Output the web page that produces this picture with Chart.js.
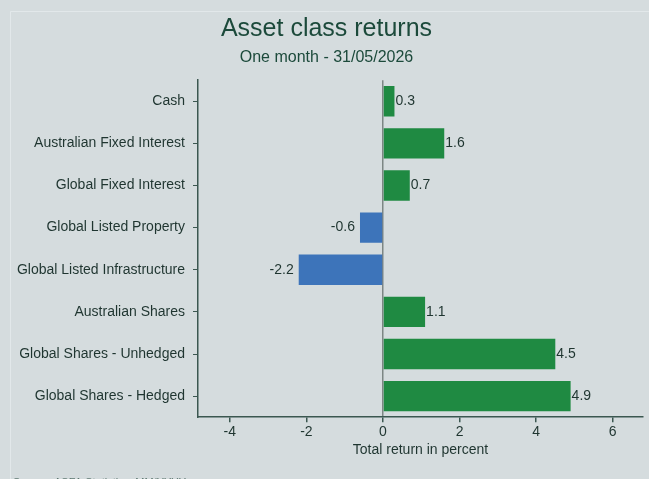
<!DOCTYPE html>
<html>
<head>
<meta charset="utf-8">
<script src="https://cdn.jsdelivr.net/npm/chart.js@4.4.1/dist/chart.umd.min.js"></script>
<style>
  html, body { margin: 0; padding: 0; background: #d5dcde; }
  #wrap { width: 649px; height: 479px; }
</style>
</head>
<body>
<div id="wrap"><canvas id="chart" width="649" height="479"></canvas></div>
<script>
// one month asset class returns
const categories = [
  'Cash',
  'Australian Fixed Interest',
  'Global Fixed Interest',
  'Global Listed Property',
  'Global Listed Infrastructure',
  'Australian Shares',
  'Global Shares - Unhedged',
  'Global Shares - Hedged'
];
const returns = [0.3, 1.6, 0.7, -0.6, -2.2, 1.1, 4.5, 4.9];
const xTicks = [-4, -2, 0, 2, 4, 6];

const GREEN = '#1f8a42';
const BLUE = '#3d74ba';
const AXIS = '#3b5750';
const TEXT = '#1f3530';
const FONT = '"Liberation Sans", Arial, sans-serif';

const background = {
  id: 'background',
  beforeDraw(chart) {
    const c = chart.ctx;
    c.save();
    c.fillStyle = '#d5dcde';
    c.fillRect(0, 0, chart.width, chart.height);
    c.strokeStyle = '#e2e8ea';
    c.lineWidth = 1;
    c.beginPath();
    c.moveTo(10.5, chart.height);
    c.lineTo(10.5, 11.5);
    c.lineTo(chart.width, 11.5);
    c.stroke();
    c.restore();
  },
  afterDraw(chart) {
    const c = chart.ctx;
    c.save();
    c.fillStyle = '#5d7770';
    c.font = '11px ' + FONT;
    c.textBaseline = 'top';
    c.fillText('Source: ASFA Statistics, MM/YYYY', 13, 477);
    c.restore();
  }
};

const valueLabels = {
  id: 'valueLabels',
  afterDatasetsDraw(chart) {
    const c = chart.ctx;
    const meta = chart.getDatasetMeta(0);
    c.save();
    c.font = '14px ' + FONT;
    c.fillStyle = TEXT;
    c.textBaseline = 'middle';
    meta.data.forEach((bar, i) => {
      const v = returns[i];
      if (v >= 0) {
        c.textAlign = 'left';
        c.fillText(v.toFixed(1), bar.x + 1, bar.y);
      } else {
        c.textAlign = 'right';
        c.fillText(v.toFixed(1), bar.x - 5, bar.y);
      }
    });
    c.restore();
  }
};

new Chart(document.getElementById('chart'), {
  type: 'bar',
  data: {
    labels: categories,
    datasets: [{
      data: returns,
      backgroundColor: returns.map(v => v >= 0 ? GREEN : BLUE),
      borderWidth: 0,
      categoryPercentage: 1,
      barPercentage: 0.72
    }]
  },
  options: {
    indexAxis: 'y',
    responsive: false,
    animation: false,
    layout: { padding: { left: 10, right: 6, top: 0, bottom: 22 } },
    plugins: {
      legend: { display: false },
      tooltip: { enabled: false },
      title: {
        display: true,
        text: 'Asset class returns',
        color: '#1c4a3b',
        font: { family: FONT, size: 25, weight: 'normal' },
        padding: { top: 14, bottom: 4 }
      },
      subtitle: {
        display: true,
        text: 'One month - 31/05/2026',
        color: '#1c4a3b',
        font: { family: FONT, size: 16, weight: 'normal' },
        padding: { top: 0, bottom: 13 }
      }
    },
    scales: {
      x: {
        min: -4.83,
        max: 6.79,
        afterBuildTicks: s => { s.ticks = xTicks.map(v => ({ value: v })); },
        grid: {
          drawOnChartArea: true,
          color: ctx => (ctx.tick && ctx.tick.value === 0) ? '#7d8684' : 'rgba(0,0,0,0)',
          lineWidth: 1.5,
          tickColor: AXIS,
          tickLength: 5
        },
        border: { display: true, color: AXIS, width: 1.5 },
        ticks: { color: TEXT, font: { family: FONT, size: 14 }, padding: 2 },
        title: {
          display: true,
          text: 'Total return in percent',
          color: TEXT,
          font: { family: FONT, size: 14, lineHeight: 1 },
          padding: { top: 0, bottom: 0 }
        }
      },
      y: {
        afterFit: s => { s.width = 188; },
        grid: { drawOnChartArea: false, offset: false, tickColor: AXIS, tickLength: 5 },
        border: { display: true, color: AXIS, width: 1.5 },
        ticks: { color: TEXT, font: { family: FONT, size: 14 }, padding: 8 }
      }
    }
  },
  plugins: [background, valueLabels]
});
</script>
</body>
</html>
